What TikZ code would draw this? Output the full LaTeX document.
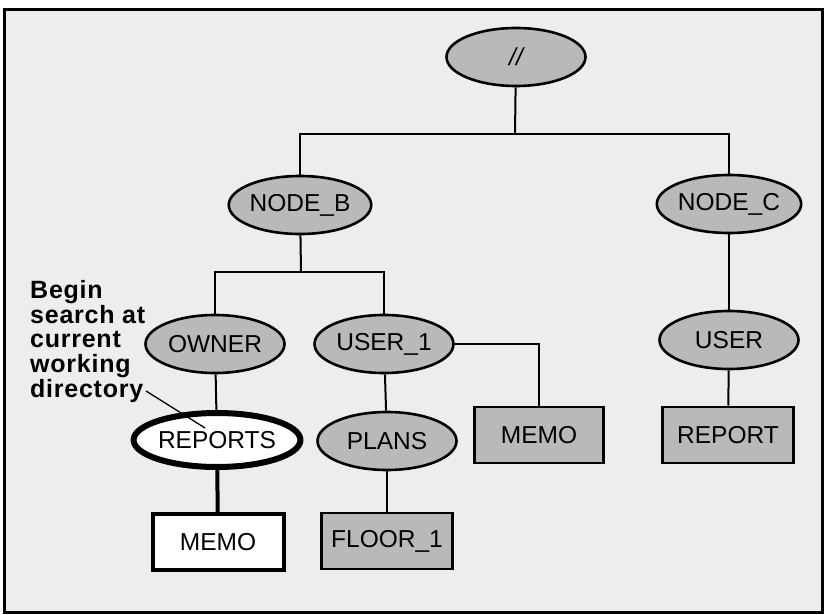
\documentclass[tikz,border=0pt]{standalone}
\usepackage{fontspec}
\setmainfont{Liberation Sans}
\tikzset{
 dir/.style={ellipse,draw,line width=2.6pt,fill=gray!55,minimum width=139pt,minimum height=58pt,inner sep=0pt,font=\fontsize{24.5}{26}\selectfont},
 fil/.style={rectangle,draw,line width=2.6pt,fill=gray!55,minimum width=131pt,minimum height=56pt,inner sep=0pt,font=\fontsize{24.5}{26}\selectfont},
 link/.style={line width=2pt}
}
\usetikzlibrary{shapes.geometric}
\begin{document}
\begin{tikzpicture}[x=1pt,y=-1pt]
 \useasboundingbox (0,0) rectangle (827,615);
 \draw [line width=3pt,fill=gray!14] (4,10) rectangle (822,612);

 % directories
 \node[dir] (root) at (516,57) {\itshape //};
 \node[dir] (nodeb) at (300,205) {NODE\_B};
 \node[dir] (nodec) at (729,204) {NODE\_C};
 \node[dir] (owner) at (215,344) {OWNER};
 \node[dir] (userone) at (384,344) {USER\_1};
 \node[dir] (userc) at (729,340) {USER};
 \node[dir,fill=white,line width=6pt,minimum width=136pt,minimum height=54pt] (reports) at (217,440) {REPORTS};
 \node[dir] (plans) at (387,441) {PLANS};

 % files
 \node[fil,minimum width=129pt] (memoa) at (539,435) {MEMO};
 \node[fil] (report) at (728,435) {REPORT};
 \node[fil,fill=white,line width=4pt,minimum width=131pt] (memob) at (218,542) {MEMO};
 \node[fil] (floor) at (387,541) {FLOOR\_1};

 % links
 \coordinate (jtop) at (515,134);
 \coordinate (jb) at (301,272);
 \draw[link] (root) -- (jtop);
 \draw[link] (nodeb) |- (jtop) -| (nodec);
 \draw[link] (nodeb) -- (jb);
 \draw[link] (owner) |- (jb) -| (userone);
 \draw[link] (nodec) -- (userc);
 \draw[link] (userc) -- (report);
 \draw[link] (userone) -| (memoa);
 \draw[link] (userone) -- (plans);
 \draw[link] (plans) -- (floor);
 \draw[link] (owner) -- (reports);
 \draw[line width=4pt] (reports) -- (memob);

 % callout
 \node[anchor=north west,inner sep=0pt,align=left,font=\fontsize{25}{24.7}\selectfont\bfseries\addfontfeatures{LetterSpace=3}] (callout) at (30,280) {Begin\\search at\\current\\working\\directory};
 \coordinate (tipa) at (146,391);
 \coordinate (tipb) at (205,428);
 \draw[line width=1.3pt] (tipa) -- (tipb);
\end{tikzpicture}
\end{document}
